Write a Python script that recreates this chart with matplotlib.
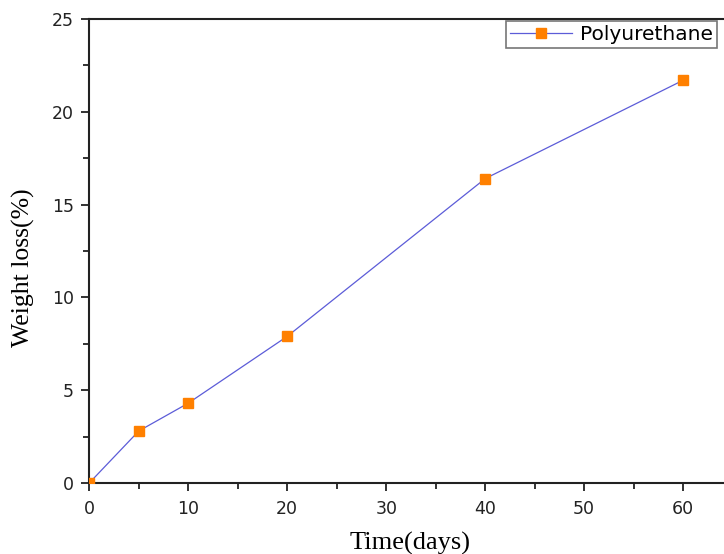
import matplotlib
matplotlib.use("Agg")
import matplotlib.pyplot as plt
from matplotlib.ticker import MultipleLocator

# Weight loss of polyurethane over time
days = [0, 5, 10, 20, 40, 60]
weight_loss = [0.0, 2.8, 4.3, 7.9, 16.4, 21.7]

x_ticks = [0, 10, 20, 30, 40, 50, 60]
y_ticks = [0, 5, 10, 15, 20, 25]
x_label = "Time(days)"
y_label = "Weight loss(%)"
series_name = "Polyurethane"

fig = plt.figure(figsize=(7.24, 5.54), dpi=100)
ax = fig.add_axes([0.1233, 0.1282, 0.957, 0.8375])

ax.plot(days, weight_loss, color="#5c5cd8", linewidth=0.9,
        marker="s", markersize=6.6, markerfacecolor="#ff8000",
        markeredgecolor="#ff8000", label=series_name, zorder=3)

ax.set_xlim(0, 70)
ax.set_ylim(0, 25)
ax.xaxis.set_minor_locator(MultipleLocator(5))
ax.yaxis.set_minor_locator(MultipleLocator(2.5))

tick_font = {"family": "DejaVu Sans", "size": 12.5}
ax.set_xticks(x_ticks)
ax.set_xticklabels([str(v) for v in x_ticks], fontdict=tick_font)
ax.set_yticks(y_ticks)
ax.set_yticklabels([str(v) for v in y_ticks], fontdict=tick_font)

ax.tick_params(axis="x", which="major", pad=6)
ax.tick_params(axis="y", which="major", pad=5)
ax.tick_params(which="major", direction="out", length=6, width=1.3,
               colors="#222222")
ax.tick_params(which="minor", direction="out", length=4, width=1.3,
               colors="#222222")
ax.tick_params(top=False, right=False)

for side in ("left", "bottom", "top"):
    ax.spines[side].set_linewidth(1.5)
    ax.spines[side].set_color("#222222")
ax.spines["right"].set_visible(False)

ax.set_xlabel(x_label, family="Liberation Serif", fontsize=19, labelpad=9)
ax.xaxis.set_label_coords((410 - 89.3) / 693, -0.105)
ax.set_ylabel(y_label, family="Liberation Serif", fontsize=18.5)
ax.yaxis.set_label_coords(-0.079, 0.463)

leg = fig.legend(loc="upper left", bbox_to_anchor=(506 / 724, 1 - 21 / 554),
                 borderaxespad=0, frameon=True, fancybox=False,
                 prop={"family": "DejaVu Sans", "size": 14.5},
                 handlelength=3.1, handletextpad=0.35, borderpad=0.2)
leg.get_frame().set_edgecolor("#555555")
leg.get_frame().set_linewidth(1.2)

fig.savefig("out.png", dpi=100)
